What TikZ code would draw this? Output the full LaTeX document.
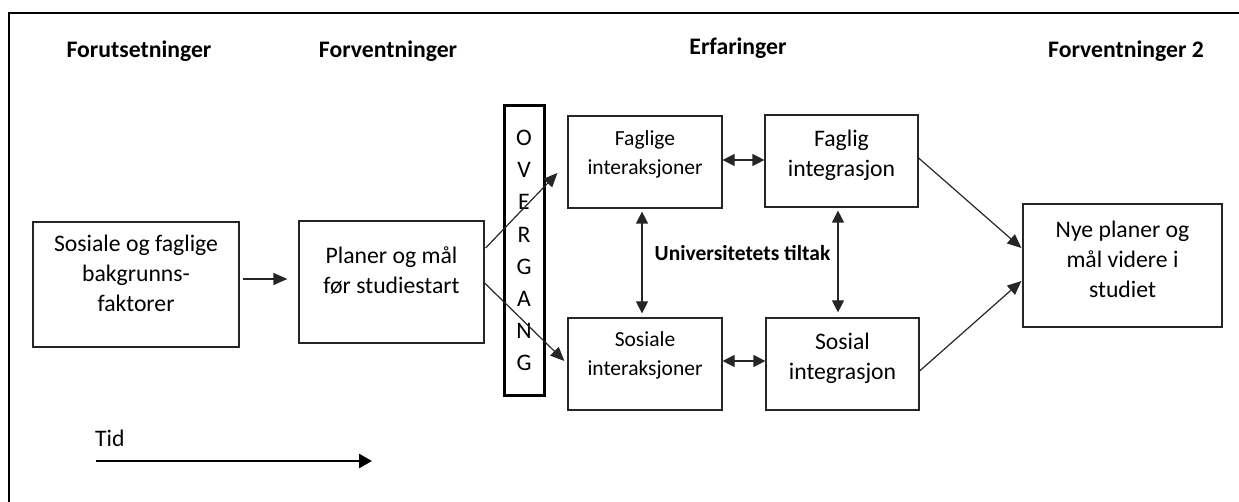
\documentclass[tikz,border=0pt]{standalone}
\usepackage{fontspec}
\setmainfont{Carlito}
\usetikzlibrary{arrows.meta}
\begin{document}
\begin{tikzpicture}[x=1pt,y=-1pt,
  box/.style={draw=black!85, line width=1.2pt, inner sep=0pt},
  bigtxt/.style={font=\fontsize{23.7}{30}\selectfont, align=center, inner sep=0pt},
  smalltxt/.style={font=\fontsize{21.5}{29}\selectfont, align=center, inner sep=0pt},
  head/.style={font=\fontsize{23.7}{29}\selectfont\bfseries, inner sep=0pt, anchor=base},
  arr/.style={-{Triangle[length=14pt,width=12pt]}, line width=1.2pt, draw=black!85},
  darr/.style={{Triangle[length=12pt,width=12pt]}-{Triangle[length=12pt,width=12pt]}, line width=1.2pt, draw=black!85}
]
\useasboundingbox (0,0) rectangle (1239,502);
% frame
\draw[line width=2pt] (9,530) -- (9,13) -- (1260,13);

% headings
\node[head] (h1) at (139,58) {Forutsetninger};
\node[head] (h2) at (388,58) {Forventninger};
\node[head] (h3) at (738,55) {Erfaringer};
\node[head] (h4) at (1126,58) {Forventninger 2};

% boxes
\node[box, minimum width=206pt, minimum height=125pt] (b1) at (136,284.5) {};
\node[bigtxt] (b1t) at ([yshift=10.8pt]b1.center) {Sosiale og faglige\\bakgrunns-\\faktorer};

\node[box, minimum width=185pt, minimum height=122pt] (pl) at (391.5,282) {};
\node[bigtxt] (plt) at ([yshift=11pt]pl.center) {Planer og mål\\før studiestart};

\node[draw=black, line width=3pt, inner sep=0pt, minimum width=40pt, minimum height=289pt,
      font=\fontsize{23.7}{32.1}\selectfont, align=center] (ov) at (524,250.5) {O\\V\\E\\R\\G\\A\\N\\G};

\node[box, minimum width=154pt, minimum height=92pt] (fi) at (645,162) {};
\node[smalltxt] (fit) at ([yshift=8pt]fi.center) {Faglige\\interaksjoner};

\node[box, minimum width=153pt, minimum height=92pt] (fg) at (841.5,161) {};
\node[bigtxt] (fgt) at ([yshift=5.5pt]fg.center) {Faglig\\integrasjon};

\node[box, minimum width=154pt, minimum height=92pt] (si) at (645,364) {};
\node[smalltxt] (sit) at ([yshift=8.4pt]si.center) {Sosiale\\interaksjoner};

\node[box, minimum width=153pt, minimum height=92pt] (sg) at (842.5,364) {};
\node[bigtxt] (sgt) at ([yshift=5.5pt]sg.center) {Sosial\\integrasjon};

\node[box, minimum width=199pt, minimum height=123pt] (ny) at (1122.5,265.5) {};
\node[bigtxt] (nyt) at ([yshift=6.5pt]ny.center) {Nye planer og\\mål videre i\\studiet};

\node[font=\fontsize{21.5}{26}\selectfont\bfseries, inner sep=0pt, anchor=base] (ut) at (742.5,261) {Universitetets tiltak};

\node[font=\fontsize{23.7}{29}\selectfont, inner sep=0pt, anchor=base west] (tid) at (95,446) {Tid};

% connectors
\draw[arr] ([xshift=3pt,yshift=5.5pt]b1.east) -- ([xshift=-11pt,yshift=3pt]pl.west);
\draw[arr] ([xshift=1pt,yshift=34pt]pl.east) -- ([xshift=-10pt,yshift=-11pt]fi.west);
\draw[arr] ([yshift=-1pt]pl.east) -- ([xshift=-3pt,yshift=3pt]si.west);
\draw[darr] ([yshift=2pt]fi.east) -- ([yshift=2pt]fi.east -| fg.west);
\draw[darr] ([yshift=3pt]si.east) -- ([yshift=3pt]si.east -| sg.west);
\draw[darr] ([xshift=-3pt,yshift=-3pt]fi.south) -- ([xshift=-3pt,yshift=4pt]si.north);
\draw[darr] ([xshift=-3.5pt,yshift=-3pt]fg.south) -- ([xshift=-4.5pt,yshift=5pt]sg.north);
\draw[arr] ([yshift=3pt]fg.east) -- ([xshift=-1pt,yshift=17.5pt]ny.west);
\draw[arr] ([yshift=-7pt]sg.east) -- ([xshift=-1pt,yshift=-15.5pt]ny.west);

\coordinate (t0) at (96,461);
\coordinate (t1) at (372,461);
\draw[-{Triangle[length=13pt,width=14pt]}, line width=2.6pt] (t0) -- (t1);
\end{tikzpicture}
\end{document}
